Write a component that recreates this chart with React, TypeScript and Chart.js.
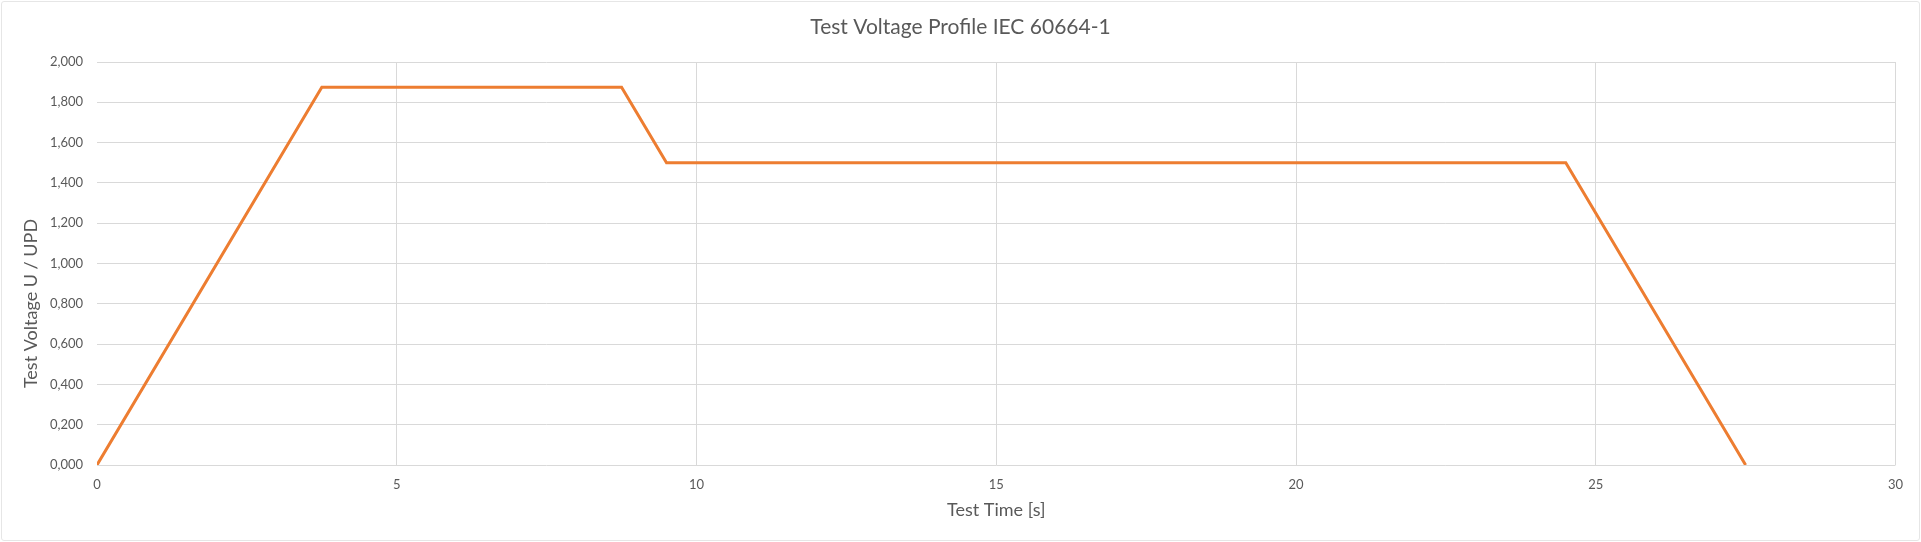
import React, { useEffect, useRef } from "react";
import { Chart, registerables } from "chart.js";

Chart.register(...registerables);

const TITLE = "Test Voltage Profile IEC 60664-1";
const X_TITLE = "Test Time [s]";
const Y_TITLE = "Test Voltage U / UPD";

const testTimes: number[] = [0, 3.75, 8.75, 9.5, 24.5, 27.5];
const voltageRatio: number[] = [0, 1.875, 1.875, 1.5, 1.5, 0];

const X_MIN = 0;
const X_MAX = 30;
const X_STEP = 5;
const Y_MIN = 0;
const Y_MAX = 2;
const Y_STEP = 0.2;

const FONT = "Lato, 'Open Sans', sans-serif";
const TEXT = "#595959";
const GRID = "#d9d9d9";
const LINE = "#ED7D31";

const yTitlePlugin = {
  id: "yTitleCustom",
  afterDraw(chart: any) {
    const { ctx, chartArea } = chart;
    ctx.save();
    ctx.font = `18px ${FONT}`;
    ctx.fillStyle = TEXT;
    ctx.textAlign = "center";
    ctx.textBaseline = "middle";
    ctx.translate(31.5, (chartArea.top + chartArea.bottom) / 2 + 40);
    ctx.rotate(-Math.PI / 2);
    ctx.fillText(Y_TITLE, 0, 0);
    ctx.restore();
  },
};

export default function App() {
  const canvasRef = useRef<HTMLCanvasElement | null>(null);

  useEffect(() => {
    document.body.style.margin = "0";
    const canvas = canvasRef.current;
    if (!canvas) return;
    const points = testTimes.map((t, i) => ({ x: t, y: voltageRatio[i] }));
    const chart = new Chart(canvas, {
      type: "line",
      data: {
        datasets: [
          {
            label: "U / UPD",
            data: points,
            borderColor: LINE,
            backgroundColor: LINE,
            borderWidth: 3,
            pointRadius: 0,
            tension: 0,
            fill: false,
            yAxisID: "y",
          },
        ],
      },
      options: {
        animation: false,
        responsive: true,
        maintainAspectRatio: false,
        layout: { padding: 0 },
        plugins: {
          legend: { display: false },
          tooltip: { enabled: false },
          title: {
            display: true,
            text: TITLE,
            color: TEXT,
            font: { family: FONT, size: 21, weight: "normal" },
            padding: { top: 14.4, bottom: 22.4 },
          },
        },
        scales: {
          x: {
            type: "linear",
            min: X_MIN,
            max: X_MAX,
            border: { display: false },
            grid: {
              drawTicks: false,
              color: (ctx: any) => (ctx.tick && ctx.tick.value === 0 ? "rgba(0,0,0,0)" : GRID),
              lineWidth: 1,
            },
            ticks: {
              stepSize: X_STEP,
              padding: 12,
              color: TEXT,
              font: { family: FONT, size: 13 },
              maxRotation: 0,
            },
            title: {
              display: true,
              text: X_TITLE,
              color: TEXT,
              font: { family: FONT, size: 18 },
              padding: { top: 0, bottom: 21.2 },
            },
            afterFit: (scale: any) => {
              scale.height = 77;
            },
          },
          y: {
            position: "left",
            min: Y_MIN,
            max: Y_MAX,
            border: { display: false },
            grid: { drawTicks: false, color: GRID, lineWidth: 1 },
            ticks: {
              stepSize: Y_STEP,
              padding: 14,
              color: TEXT,
              font: { family: FONT, size: 13 },
              callback: (v: any) => Number(v).toFixed(3).replace(".", ","),
            },
            afterFit: (scale: any) => {
              scale.width = 97;
            },
          },
          yRightSpace: {
            position: "right",
            display: true,
            min: Y_MIN,
            max: Y_MAX,
            border: { display: false },
            grid: { display: false, drawTicks: false },
            ticks: { display: false },
            afterFit: (scale: any) => {
              scale.width = 25.5;
            },
          },
        },
      },
      plugins: [yTitlePlugin],
    });
    return () => chart.destroy();
  }, []);

  return (
    <div style={{ position: "relative", width: "1921px", height: "542px", background: "#ffffff" }}>
      <canvas ref={canvasRef} />
      <div
        style={{
          position: "absolute",
          left: 1,
          top: 1,
          width: 1917,
          height: 538,
          border: "1px solid #e6e6e6",
          borderRadius: 3,
          pointerEvents: "none",
        }}
      />
    </div>
  );
}
